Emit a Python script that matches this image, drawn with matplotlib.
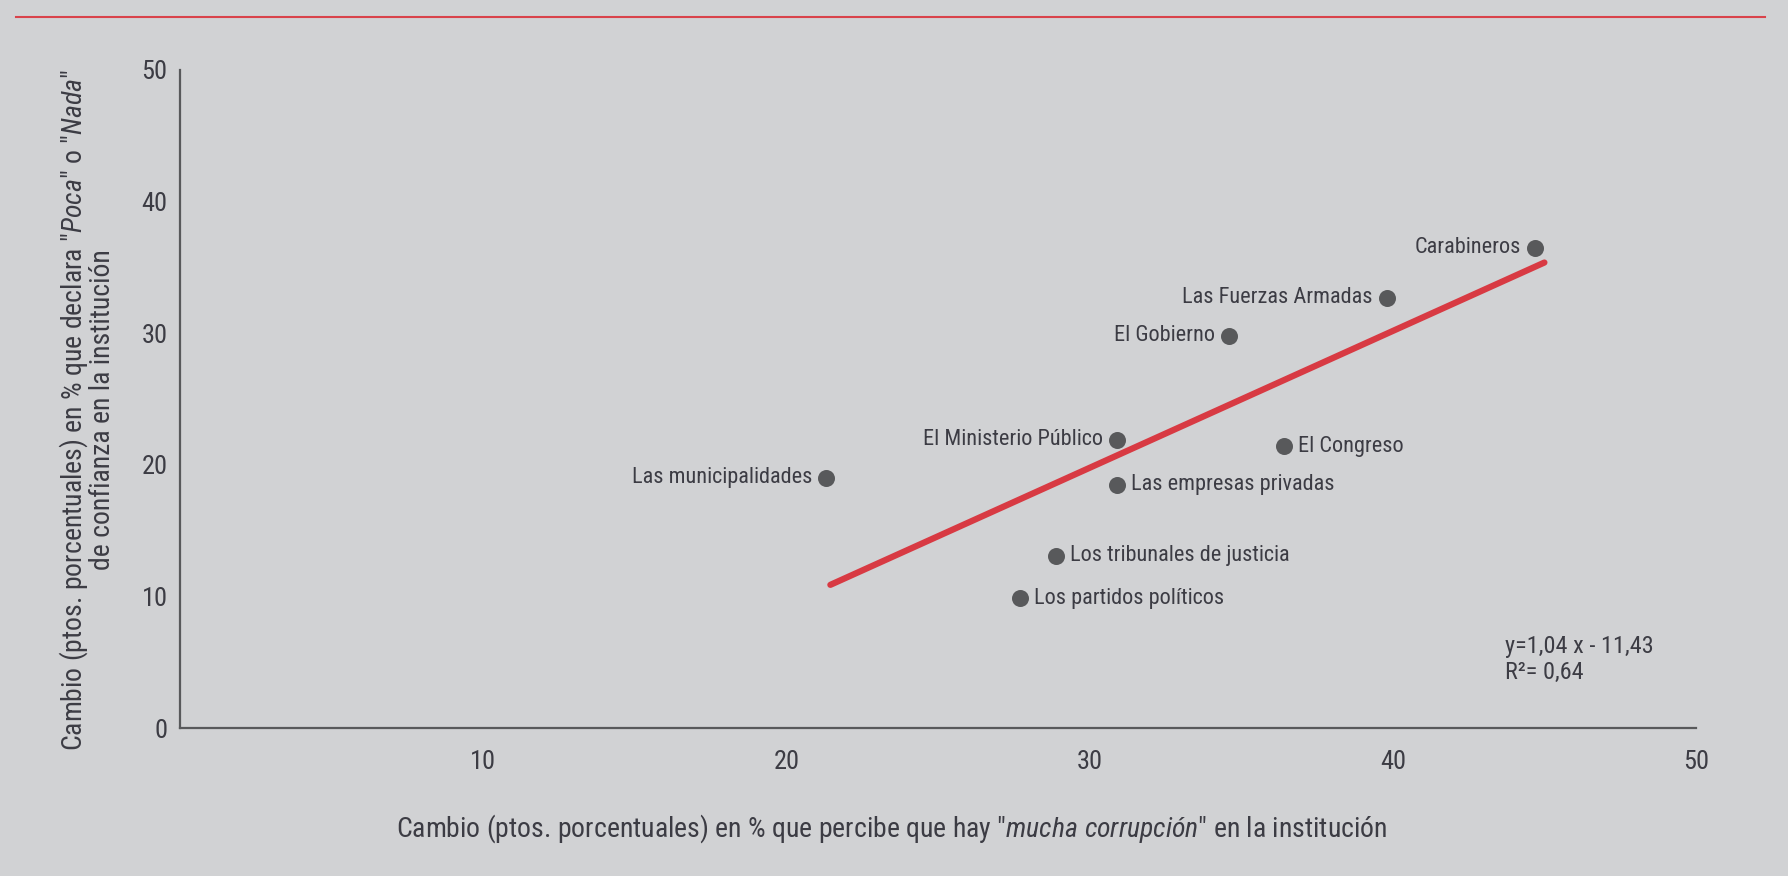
import matplotlib
matplotlib.use("Agg")
import matplotlib.pyplot as plt
from matplotlib import font_manager
from matplotlib.lines import Line2D

# ---------------- data ----------------
institutions = ["Carabineros", "Las Fuerzas Armadas", "El Gobierno", "El Ministerio Público",
                "El Congreso", "Las empresas privadas", "Las municipalidades",
                "Los tribunales de justicia", "Los partidos políticos"]
corruption_change = [44.7, 39.8, 34.6, 30.9, 36.4, 30.9, 21.3, 28.9, 27.7]
distrust_change = [36.5, 32.7, 29.8, 21.9, 21.4, 18.5, 19.0, 13.1, 9.85]
label_side = ["left", "left", "left", "left", "right", "right", "left", "right", "right"]
fit_x = [21.45, 45.0]
slope, intercept = 1.04, -11.43
eq_text = "y=1,04 x - 11,43"
r2_text = "R²= 0,64"
x_ticks = [10, 20, 30, 40, 50]
y_ticks = [0, 10, 20, 30, 40, 50]

# ---------------- fonts ----------------
available = {f.name for f in font_manager.fontManager.ttflist}
font = "Roboto"
for cand in ["Roboto Condensed", "Archivo Narrow", "Fira Sans Condensed", "Asap Condensed",
             "Barlow Semi Condensed", "Liberation Sans Narrow"]:
    if cand in available:
        font = cand
        break
plt.rcParams["font.family"] = [font, "DejaVu Sans"]
plt.rcParams["mathtext.fontset"] = "custom"
plt.rcParams["mathtext.rm"] = font
plt.rcParams["mathtext.it"] = font + ":italic"

BG = "#d1d2d4"
TXT = "#3c3c44"
RED = "#d83a43"
DOT = "#58595b"

W, H = 1788, 876
fig = plt.figure(figsize=(W / 100, H / 100), dpi=100, facecolor=BG)
ax = fig.add_axes([180 / W, 1 - 728 / H, (1696 - 180) / W, (728 - 70) / H], facecolor=BG)

ax.set_xlim(0, 50)
ax.set_ylim(0, 50)
for s in ["top", "right"]:
    ax.spines[s].set_visible(False)
for s in ["left", "bottom"]:
    ax.spines[s].set_color("#58595b")
    ax.spines[s].set_linewidth(1.6)

ax.set_xticks(x_ticks)
ax.set_yticks(y_ticks)
ax.tick_params(axis="both", length=0, labelsize=19, labelcolor=TXT)
ax.tick_params(axis="x", pad=16)
ax.tick_params(axis="y", pad=9)

# regression line
fit_y = [slope * v + intercept for v in fit_x]
ax.plot(fit_x, fit_y, color=RED, lw=4.5, solid_capstyle="round", zorder=2)

# points
ax.scatter(corruption_change, distrust_change, s=150, color=DOT, zorder=3, linewidths=0)

for name, xv, yv, side in zip(institutions, corruption_change, distrust_change, label_side):
    dx = -10 if side == "left" else 10
    ax.annotate(name, (xv, yv), xytext=(dx, 0), textcoords="offset points",
                ha="right" if side == "left" else "left", va="center",
                fontsize=16, color=TXT)

ax.text(43.7, 6.2, eq_text, ha="left", va="center", fontsize=17.5, color=TXT)
ax.text(43.7, 4.2, r2_text, ha="left", va="center", fontsize=17.5, color=TXT)

# axis titles
fig.text(892 / W, 1 - 829 / H,
         r'Cambio (ptos. porcentuales) en % que percibe que hay "$\mathit{mucha\ corrupción}$" en la institución',
         ha="center", va="center", fontsize=20, color=TXT)
fig.text(87 / W, 1 - 410 / H,
         'Cambio (ptos. porcentuales) en % que declara "$\\mathit{Poca}$" o "$\\mathit{Nada}$"\nde confianza en la institución',
         ha="center", va="center", rotation=90, fontsize=20, color=TXT,
         multialignment="center", linespacing=0.95)

# top red rule
fig.add_artist(Line2D([16 / W, 1765 / W], [1 - 17 / H, 1 - 17 / H],
                      transform=fig.transFigure, color="#d9434b", lw=1.5))

fig.savefig("out.png", dpi=100, facecolor=BG)
